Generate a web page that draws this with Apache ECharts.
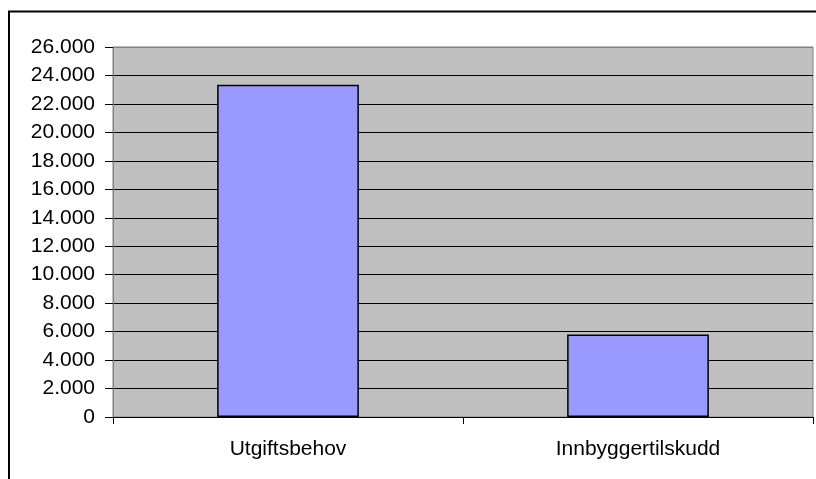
<!DOCTYPE html>
<html><head><meta charset="utf-8">
<script src="https://cdn.jsdelivr.net/npm/echarts@6/dist/echarts.min.js"></script>
<style>html,body{margin:0;padding:0;background:#fff}#c{width:816px;height:479px}</style>
</head><body><div id="c"></div>
<script>
const categories = ['Utgiftsbehov', 'Innbyggertilskudd'];
const values = [23350, 5800];
const yMin = 0, yMax = 26000, yStep = 2000;

function fmt(v){ return String(v).replace(/\B(?=(\d{3})+(?!\d))/g, '.'); }
const splitColors = [];
for (let v = yMin; v <= yMax; v += yStep) splitColors.push(v === yMax ? '#808080' : '#000000');

const chart = echarts.init(document.getElementById('c'), null, {renderer:'canvas'});
chart.setOption({
  animation:false,
  backgroundColor:'#ffffff',
  graphic:[{type:'rect', shape:{x:9, y:11.5, width:900, height:600}, style:{fill:'none', stroke:'#000', lineWidth:2}, z:100}],
  grid:{left:113, top:47, right:3, bottom:62, show:true, backgroundColor:'#C0C0C0', borderColor:'#808080', borderWidth:1},
  xAxis:{type:'category', data:categories,
    axisLine:{lineStyle:{color:'#000', width:1}},
    axisTick:{show:true, length:7, lineStyle:{color:'#000'}},
    axisLabel:{color:'#000', fontFamily:'Liberation Sans, Arial', fontSize:21, margin:22}},
  yAxis:{type:'value', min:yMin, max:yMax, interval:yStep,
    axisLine:{show:true, lineStyle:{color:'#808080'}},
    axisTick:{show:true, length:8, lineStyle:{color:'#000'}},
    splitLine:{show:true, lineStyle:{color:splitColors, width:1}},
    axisLabel:{color:'#000', fontFamily:'Liberation Sans, Arial', fontSize:21, margin:18, formatter:fmt}},
  series:[{type:'bar', data:values, barWidth:'40.5%',
    itemStyle:{color:'#9999FF', borderColor:'#000', borderWidth:1.5}}]
});
</script></body></html>
